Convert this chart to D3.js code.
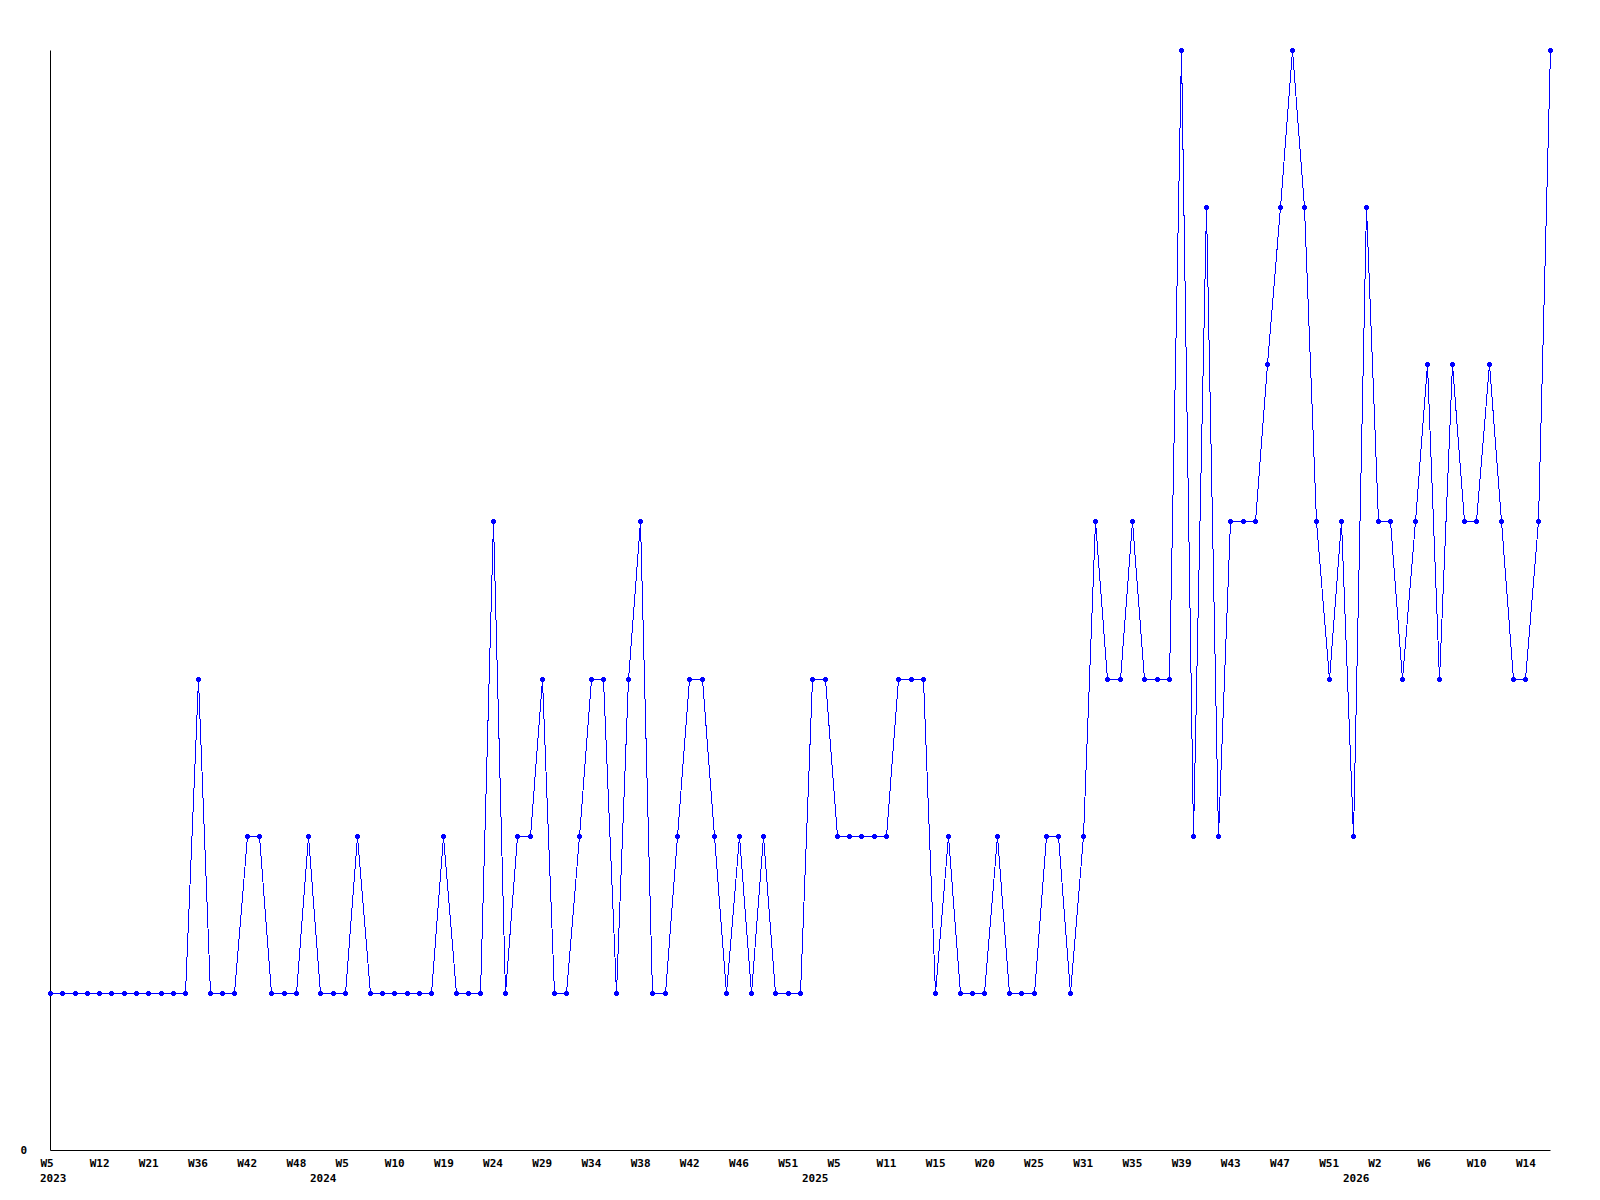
<!DOCTYPE html>
<html>
<head>
<meta charset="utf-8">
<script src="https://cdn.jsdelivr.net/npm/d3@7"></script>
<style>
  body { margin: 0; background: #fff; }
  svg { display: block; }
  text { font-family: "DejaVu Sans Mono", monospace; font-weight: bold; font-size: 11px; fill: #000; }
</style>
</head>
<body>
<svg width="1600" height="1200"></svg>
<script>
// weekly counts, one per point
var counts = [1,1,1,1,1,1,1,1,1,1,1,1,3,1,1,1,2,2,1,1,
              1,2,1,1,1,2,1,1,1,1,1,1,2,1,1,1,4,1,2,2,
              3,1,1,2,3,3,1,3,4,1,1,2,3,3,2,1,2,1,2,1,
              1,1,3,3,2,2,2,2,2,3,3,3,1,2,1,1,1,2,1,1,
              1,2,2,1,2,4,3,3,4,3,3,3,7,2,6,2,4,4,4,5,
              6,7,6,4,3,4,2,6,4,4,3,4,5,3,5,4,4,5,4,3,
              3,4,7];

// a week label every 4th point
var weekLabels = ["W5","W12","W21","W36","W42","W48","W5","W10","W19","W24",
                  "W29","W34","W38","W42","W46","W51","W5","W11","W15","W20",
                  "W25","W31","W35","W39","W43","W47","W51","W2","W6","W10","W14"];
var weekStep = 4;

var yearLabels = ["2023", "2024", "2025", "2026"];
var yearIndex = [0, 22, 62, 106];

var svg = d3.select("svg");

var plotLeft = 50, plotRight = 1550, plotTop = 50, plotBottom = 1150;

var xScale = d3.scaleLinear()
    .domain([0, counts.length - 1])
    .range([plotLeft, plotRight]);

var yScale = d3.scaleLinear()
    .domain([0, 7])
    .range([plotBottom, plotTop]);

// x axis: baseline + week labels
var xAxis = d3.axisBottom(xScale)
    .tickValues(weekLabels.map((d, i) => i * weekStep))
    .tickFormat((d, i) => weekLabels[i])
    .tickSize(0)
    .tickPadding(0);

var gx = svg.append("g")
    .attr("transform", "translate(0," + plotBottom + ")")
    .call(xAxis);
gx.attr("font-family", null).attr("font-size", null);
gx.select(".domain").attr("stroke", "#000");
gx.selectAll("text")
    .attr("text-anchor", "start")
    .attr("dy", null)
    .attr("x", -10)
    .attr("y", 17);

// year labels under the weeks
svg.append("g").selectAll("text")
    .data(yearLabels)
    .enter()
    .append("text")
    .attr("x", (d, i) => Math.round(xScale(yearIndex[i])) - 10)
    .attr("y", plotBottom + 32)
    .text(d => d);

// y axis: just the line and a zero
var yAxis = d3.axisLeft(yScale)
    .tickValues([0])
    .tickFormat(d3.format("d"))
    .tickSize(0)
    .tickPadding(23);

var gy = svg.append("g")
    .attr("transform", "translate(" + plotLeft + ",0)")
    .call(yAxis);
gy.attr("font-family", null).attr("font-size", null);
gy.select(".domain").attr("stroke", "#000");
gy.selectAll("text").attr("dy", "0.35em");

// the series
var line = d3.line()
    .x((d, i) => Math.round(xScale(i)) + 0.5)
    .y(d => Math.round(yScale(d)) + 0.5);

svg.append("path")
    .datum(counts)
    .attr("d", line)
    .attr("fill", "none")
    .attr("stroke", "#0000ff")
    .attr("stroke-width", 1)
    .attr("shape-rendering", "crispEdges");

// small plus markers
var marks = svg.append("g")
    .attr("fill", "#0000ff")
    .attr("shape-rendering", "crispEdges")
    .selectAll("g")
    .data(counts)
    .enter()
    .append("g")
    .attr("transform", (d, i) => "translate(" + Math.round(xScale(i)) + "," + Math.round(yScale(d)) + ")");

marks.append("rect").attr("x", -2).attr("y", -1).attr("width", 5).attr("height", 3);
marks.append("rect").attr("x", -1).attr("y", -2).attr("width", 3).attr("height", 5);
</script>
</body>
</html>
